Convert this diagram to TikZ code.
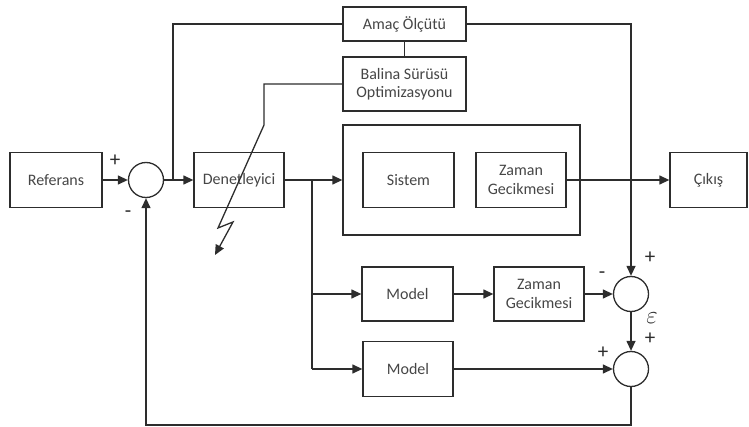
\documentclass[tikz,border=0pt]{standalone}
\usepackage{fontspec}
\setmainfont{Carlito}
\usetikzlibrary{arrows.meta,calc}
\definecolor{lc}{RGB}{45,45,45}
\definecolor{tc}{RGB}{70,70,70}
\begin{document}
\begin{tikzpicture}[x=1pt,y=-1pt,
  line width=1.3pt,
  every node/.style={font=\fontsize{16}{18.5}\selectfont, text=tc},
  blk/.style={draw=lc, rectangle, inner sep=0pt, align=center},
  sumc/.style={draw=lc, circle, minimum size=35pt, inner sep=0pt},
  arr/.style={draw=lc, -{Triangle[length=10pt,width=9pt]}},
  ln/.style={draw=lc},
  sgn/.style={font=\fontsize{21}{21}\selectfont, text=lc, inner sep=0pt}]
\useasboundingbox (0,0) rectangle (749,427);

\node[blk, minimum width=92pt, minimum height=55pt] (ref) at (56,180) {Referans};
\node[sumc] (s1) at (146,180) {};
\node[blk, minimum width=90pt, minimum height=55pt] (den) at (239,180) {Denetleyici};
\node[blk, minimum width=237pt, minimum height=110pt] (big) at (461.5,180) {};
\node[blk, minimum width=91pt, minimum height=55pt] (sis) at (408.5,180) {Sistem};
\node[blk, minimum width=90pt, minimum height=55pt] (zg1) at (521,180) {Zaman\\Gecikmesi};
\node[blk, minimum width=77pt, minimum height=55pt] (cik) at (708.5,180) {Çıkış};
\node[blk, minimum width=123pt, minimum height=34pt] (amac) at (404.5,24) {Amaç Ölçütü};
\node[blk, minimum width=123pt, minimum height=54pt] (bal) at (404.5,84) {Balina Sürüsü\\Optimizasyonu};
\node[blk, minimum width=91pt, minimum height=54pt] (m1) at (407.5,294) {Model};
\node[blk, minimum width=90pt, minimum height=54pt] (zg2) at (539,294) {Zaman\\Gecikmesi};
\node[sumc] (s2) at (631,294) {};
\node[sumc] (s3) at (631,369) {};
\node[blk, minimum width=90pt, minimum height=55pt] (m2) at (408,369) {Model};

\coordinate (b1) at (173,180);
\coordinate (b2) at (312,180);
\coordinate (fb) at (631,425);
\coordinate (l1) at (264,84);
\coordinate (l2) at (264,125);
\coordinate (l3) at (218,228);
\coordinate (l4) at (233,222);
\coordinate (l5) at (215,255);

\draw[arr] (ref.east) -- (s1.west);
\draw[arr] (s1.east) -- (den.west);
\draw[ln] (b1) |- (amac.west);
\draw[arr] (den.east) -- (big.west);
\draw[ln] (b2) -- (b2 |- m2.west);
\draw[arr] (b2 |- m1.west) -- (m1.west);
\draw[arr] (b2 |- m2.west) -- (m2.west);
\draw[arr] (zg1.east) -- (cik.west);
\draw[arr] (amac.east) -| (s2.north);
\draw[ln] (amac.south) -- (bal.north);
\draw[arr, line join=miter] (bal.west) -- (l1) -- (l2) -- (l3) -- (l4) -- (l5);
\draw[arr] (m1.east) -- (zg2.west);
\draw[arr] (zg2.east) -- (s2.west);
\draw[arr] (s2.south) -- (s3.north);
\draw[arr] (m2.east) -- (s3.west);
\draw[arr] (s3.south) -- (fb) -| (s1.south);

\node[sgn] (p1) at (115,161) {+};
\node[sgn] (n1) at (128,214) {-};
\node[sgn] (p2) at (650,258) {+};
\node[sgn] (n2) at (602,275) {-};
\node[sgn, font=\fontsize{24}{24}\selectfont] (eps) at (652,318) {$\varepsilon$};
\node[sgn] (p3) at (650,339) {+};
\node[sgn] (p4) at (603,353) {+};
\end{tikzpicture}
\end{document}
